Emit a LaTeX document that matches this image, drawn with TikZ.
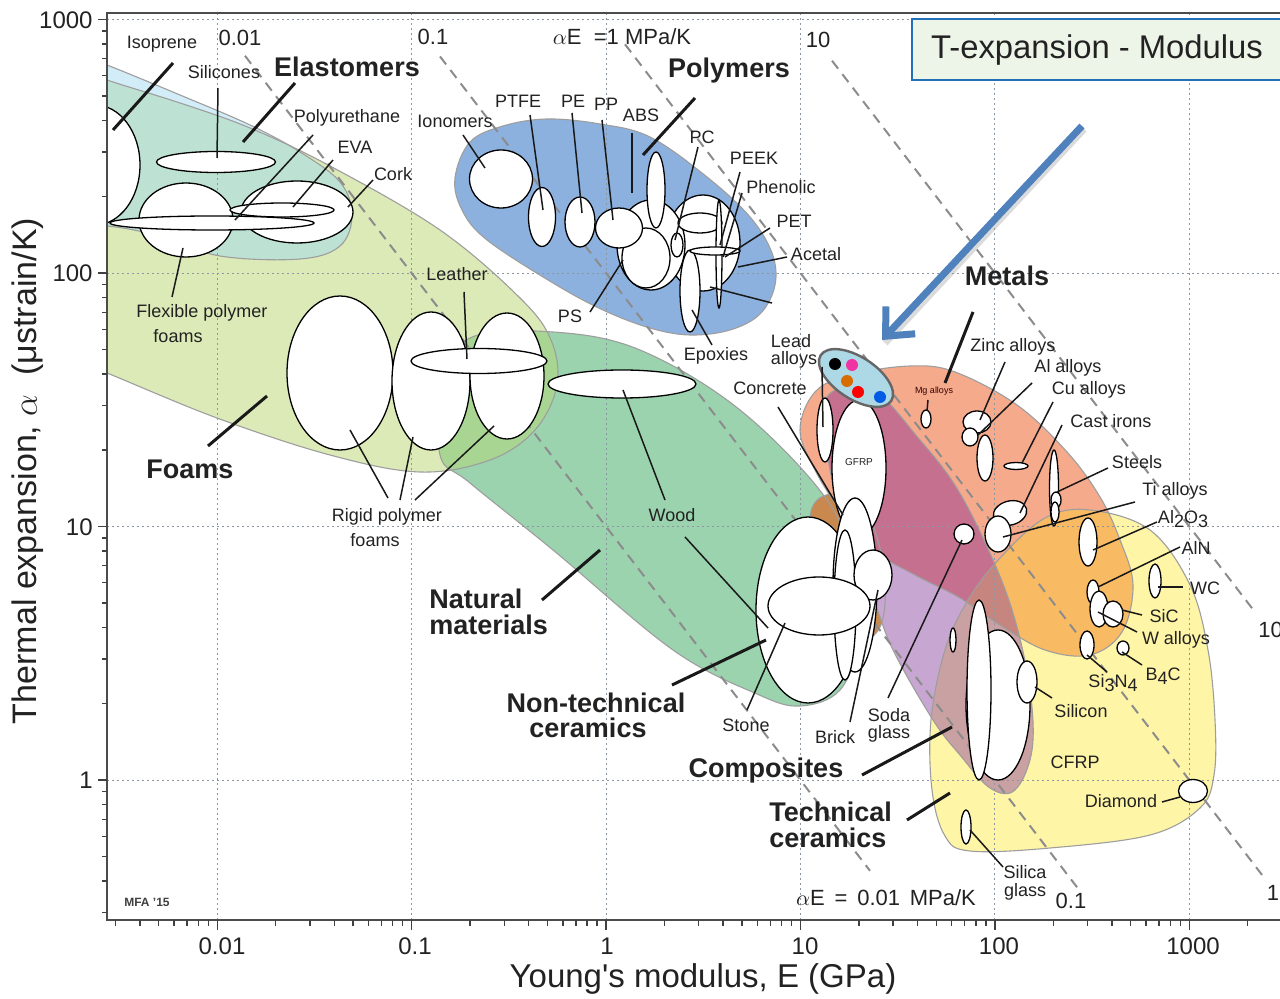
\documentclass[tikz,border=0pt]{standalone}
\usepackage{fontspec}
\setmainfont{Liberation Sans}
\usetikzlibrary{arrows.meta}
\definecolor{foamc}{HTML}{DCEAB8}
\definecolor{elastc}{HTML}{D2EDF8}
\definecolor{tealc}{HTML}{BDE2D3}
\definecolor{polyc}{HTML}{8DB1DE}
\definecolor{natc}{HTML}{9BD3AE}
\definecolor{natfoamc}{HTML}{A9D592}
\definecolor{ntcc}{HTML}{C8884E}
\definecolor{metalc}{HTML}{F6AA8C}
\definecolor{ceramc}{HTML}{FFF5A6}
\definecolor{metceramc}{HTML}{F9BA64}
\definecolor{compc}{HTML}{C8A6D2}
\definecolor{compmetc}{HTML}{C6708F}
\definecolor{compceramc}{HTML}{C9A1A2}
\definecolor{compallc}{HTML}{C7857F}
\definecolor{leadc}{HTML}{ADD8E6}
\definecolor{gridc}{HTML}{8C96A0}
\definecolor{titlefill}{HTML}{EDF5E8}
\definecolor{titleedge}{HTML}{2270B8}
\definecolor{arrowc}{HTML}{4F81BD}
\definecolor{txtc}{HTML}{222222}
\newcommand\sbx[1]{\raisebox{-0.45ex}{#1}}
\def\pFoam{plot[smooth cycle, tension=0.6] coordinates {(60,62) (107,80) (180,103) (250,128) (330,166) (440,230) (520,298) (551,340) (557,385) (535,430) (490,460) (420,472) (330,455) (217,418) (107,373) (60,355)}}
\def\pElast{plot[smooth cycle, tension=0.6] coordinates {(60,48) (107,65) (180,95) (250,125) (300,152) (340,182) (352,215) (340,246) (300,259) (220,256) (160,236) (107,226) (60,226)}}
\def\pPoly{plot[smooth cycle, tension=0.6] coordinates {(455,178) (470,142) (503,126) (547,119) (600,124) (650,137) (707,177) (750,217) (772,253) (775,285) (760,314) (730,330) (690,335) (650,328) (603,310) (553,283) (487,240) (462,210)}}
\def\pNat{plot[smooth cycle, tension=0.6] coordinates {(440,455) (445,385) (470,338) (553,332) (640,350) (740,410) (827,500) (852,570) (858,640) (840,690) (800,706) (757,694) (673,650) (553,550) (470,483)}}
\def\pNtc{plot[smooth cycle, tension=0.6] coordinates {(812,508) (838,494) (868,515) (884,570) (882,622) (862,640) (832,620) (812,565)}}
\def\pMet{plot[smooth cycle, tension=0.6] coordinates {(800,430) (815,392) (850,375) (910,366) (955,372) (1017,405) (1067,452) (1100,497) (1120,540) (1133,585) (1122,632) (1090,655) (1045,650) (1000,625) (960,598) (915,575) (873,550) (840,510) (815,470)}}
\def\pCer{plot[smooth cycle, tension=0.6] coordinates {(1045,518) (1090,510) (1150,530) (1190,585) (1208,650) (1215,720) (1214,775) (1200,808) (1150,835) (1050,848) (970,851) (945,836) (932,790) (931,720) (945,650) (968,600) (1000,558)}}
\def\pComp{plot[smooth cycle, tension=0.6] coordinates {(825,400) (870,388) (920,440) (958,490) (993,560) (1015,620) (1030,690) (1032,750) (1015,790) (990,788) (960,755) (933,720) (893,650) (873,597) (850,540) (830,470)}}
\begin{document}
\begin{tikzpicture}[x=0.5pt,y=-0.5pt,
  ell/.style={draw=black, fill=white, line width=0.65pt},
  env/.style={draw=black!38, line width=0.55pt},
  ld/.style={draw=black!90, line width=0.75pt},
  tld/.style={draw=black!90, line width=1.5pt},
  lb/.style={inner sep=0pt, font=\fontsize{9}{10.5}\selectfont, text=txtc},
  blb/.style={inner sep=0pt, font=\bfseries\fontsize{13.5}{15}\selectfont, text=txtc},
  gridl/.style={draw=gridc, line width=0.45pt, dash pattern=on 1.2pt off 1.3pt},
  aeline/.style={draw=black!45, line width=1pt, dash pattern=on 5pt off 3.5pt},
  tick/.style={draw=black!75, line width=0.7pt},
  ae/.style={inner sep=0pt, font=\fontsize{11}{12}\selectfont, text=txtc}]
\useasboundingbox (0,0) rectangle (1280,999);
\fill[white] (0,0) rectangle (1280,999);

\begin{scope}
\clip (107,13) rectangle (1285,920);
% ---------- envelopes ----------
\fill[foamc] \pFoam;
\fill[elastc] \pElast;
\begin{scope}\clip \pElast; \fill[tealc] \pFoam; \end{scope}
\fill[polyc] \pPoly;
\fill[natc] \pNat;
\begin{scope}\clip \pNat; \fill[natfoamc] \pFoam; \end{scope}
\fill[ntcc] \pNtc;
\fill[metalc] \pMet;
\fill[ceramc] \pCer;
\begin{scope}\clip \pMet; \fill[metceramc] \pCer; \end{scope}
\fill[compc] \pComp;
\begin{scope}\clip \pComp; \fill[compmetc] \pMet; \fill[compceramc] \pCer; \clip \pMet; \fill[compallc] \pCer; \end{scope}
\draw[env] \pFoam; \draw[env] \pElast; \draw[env] \pPoly; \draw[env] \pNat;
\draw[env] \pNtc; \draw[env] \pMet; \draw[env] \pCer; \draw[env] \pComp;
% ---------- grid ----------
\foreach \gx in {217.2,411.6,606,800.4,994.8,1189.2} \draw[gridl] (\gx,13) -- (\gx,920);
\foreach \gy in {19.5,273,526.5,780} \draw[gridl] (107,\gy) -- (1285,\gy);
% ---------- alpha E lines ----------
\draw[aeline] (245,55.8) -- (870,870.8);
\draw[aeline] (440,56.5) -- (1077,887.2);
\draw[aeline] (625,44.3) -- (1262,874.9);
\draw[aeline] (832,60.7) -- (1256,613.4);
% ---------- elastomers / foams ellipses ----------
\draw[ell] (95,165) ellipse [x radius=45, y radius=60];
\draw[ell] (216,162) ellipse [x radius=59.5, y radius=10.5];
\draw[ell] (297,212) ellipse [x radius=56, y radius=31];
\draw[ell] (186,220) ellipse [x radius=47, y radius=37];
\draw[ell] (282,210) ellipse [x radius=52, y radius=7];
\draw[ell] (212,223) ellipse [x radius=102, y radius=7];
\draw[ell] (340,373) ellipse [x radius=53, y radius=77];
\draw[ell] (431,381) ellipse [x radius=39, y radius=69];
\draw[ell] (507,376) ellipse [x radius=37, y radius=63];
\draw[ell] (479,361) ellipse [x radius=68, y radius=12.5];
\draw[ell] (622,384) ellipse [x radius=74, y radius=14];
% ---------- polymers ellipses ----------
\draw[ell] (501,179) ellipse [x radius=31.5, y radius=29];
\draw[ell] (542,217) ellipse [x radius=13.5, y radius=29.5];
\draw[ell] (580,222) ellipse [x radius=15, y radius=25];
\draw[ell] (703,243) ellipse [x radius=37, y radius=48];
\draw[ell] (651,245) ellipse [x radius=34, y radius=45];
\draw[ell] (646,258) ellipse [x radius=24, y radius=30];
\draw[ell] (619,228) ellipse [x radius=23.5, y radius=20];
\draw[ell] (656,190) ellipse [x radius=9, y radius=38];
\draw[ell] (700,223) ellipse [x radius=22, y radius=10];
\draw[ell] (677,245) ellipse [x radius=6, y radius=12];
\draw[ell] (690,291) ellipse [x radius=10, y radius=41];
\draw[ell] (719,254) ellipse [x radius=3, y radius=54];
\draw[ell] (715,251) ellipse [x radius=25, y radius=4];
% ---------- composites / non-technical cluster ----------
\draw[ell] (859,468) ellipse [x radius=27, y radius=68];
\draw[ell] (825,430) ellipse [x radius=8, y radius=32];
\draw[ell] (808,610) ellipse [x radius=52, y radius=93];
\draw[ell] (855,585) ellipse [x radius=22, y radius=87];
\draw[ell] (845,605) ellipse [x radius=11, y radius=75];
\draw[ell] (873,575) ellipse [x radius=19, y radius=25];
\draw[ell] (819,606) ellipse [x radius=51, y radius=29];
% ---------- metals ----------
\draw[ell] (926,419) ellipse [x radius=5, y radius=9];
\draw[ell] (977,422) ellipse [x radius=14, y radius=11];
\draw[ell] (970,437) ellipse [x radius=8, y radius=9];
\draw[ell] (985,458) ellipse [x radius=8, y radius=23];
\draw[ell] (1016,466) ellipse [x radius=12, y radius=3.5];
\draw[ell] (1054,488) ellipse [x radius=4.5, y radius=38];
\draw[ell] (1056,500) ellipse [x radius=5, y radius=8];
\draw[ell] (1055,512) ellipse [x radius=4, y radius=10];
\draw[ell, rotate around={15:(1010,513)}] (1010,513) ellipse [x radius=17, y radius=12];
\draw[ell] (998,534) ellipse [x radius=13, y radius=18];
\draw[ell] (964,534) ellipse [x radius=10, y radius=10];
% ---------- ceramics ----------
\draw[ell] (1088,542) ellipse [x radius=9, y radius=24];
\draw[ell] (1093,592) ellipse [x radius=6, y radius=12];
\draw[ell] (1099,609) ellipse [x radius=9, y radius=18];
\draw[ell] (1113,614) ellipse [x radius=10, y radius=13];
\draw[ell] (1155,581) ellipse [x radius=6, y radius=17];
\draw[ell] (1087,645) ellipse [x radius=7, y radius=14];
\draw[ell] (1123,648) ellipse [x radius=6, y radius=7];
\draw[ell] (953,640) ellipse [x radius=3, y radius=12];
\draw[ell] (998,705) ellipse [x radius=32, y radius=75];
\draw[ell] (979,690) ellipse [x radius=12, y radius=90];
\draw[ell] (1027,682) ellipse [x radius=10, y radius=21];
\draw[ell] (966,827) ellipse [x radius=5, y radius=17];
\draw[ell] (1193,791) ellipse [x radius=14.5, y radius=11.5];
% ---------- highlighted lead ellipse ----------
\draw[fill=leadc, draw=black!60, line width=1.2pt, rotate around={-33:(856,378)}] (856,378) ellipse [x radius=42, y radius=21];
\fill[black] (835,364) circle [radius=6];
\fill[magenta!80!white] (852,365) circle [radius=6];
\fill[orange!85!black] (847,381) circle [radius=6];
\fill[red] (858,392) circle [radius=6];
\fill[blue!60!cyan!90!black] (880,397) circle [radius=6];
% ---------- leader lines ----------
\draw[tld] (173,63) -- (113,130);
\draw[ld] (218,88) -- (217,158);
\draw[tld] (295,83) -- (243,142);
\draw[ld] (313,135) -- (235,220);
\draw[ld] (333,160) -- (293,207);
\draw[ld] (373,180) -- (348,207);
\draw[ld] (183,248) -- (172,297);
\draw[ld] (464,292) -- (467,359);
\draw[ld] (350,430) -- (388,498);
\draw[ld] (413,437) -- (400,500);
\draw[ld] (494,426) -- (415,500);
\draw[tld] (208,446) -- (267,396);
\draw[ld] (623,390) -- (665,500);
\draw[ld] (685,537) -- (768,628);
\draw[tld] (542,600) -- (600,550);
\draw[ld] (463,135) -- (485,168);
\draw[ld] (530,115) -- (543,210);
\draw[ld] (572,113) -- (582,213);
\draw[ld] (602,120) -- (613,220);
\draw[ld] (632,133) -- (632,193);
\draw[tld] (695,98) -- (643,155);
\draw[ld] (698,147) -- (675,240);
\draw[ld] (740,172) -- (720,245);
\draw[ld] (742,193) -- (723,257);
\draw[ld] (770,228) -- (725,257);
\draw[ld] (787,257) -- (738,267);
\draw[ld] (772,303) -- (710,287);
\draw[ld] (590,312) -- (623,260);
\draw[ld] (692,310) -- (712,345);
\draw[ld] (822,367) -- (823,427);
\draw[ld] (778,407) -- (843,515);
\draw[tld] (973,312) -- (945,383);
\draw[ld] (928,400) -- (927,411);
\draw[ld] (1005,362) -- (980,420);
\draw[ld] (1032,383) -- (978,435);
\draw[ld] (1053,402) -- (1022,463);
\draw[ld] (1062,425) -- (1020,513);
\draw[ld] (1108,468) -- (1057,492);
\draw[ld] (1135,502) -- (1003,537);
\draw[ld] (1157,522) -- (1093,550);
\draw[ld] (1180,547) -- (1098,587);
\draw[ld] (1158,587) -- (1183,587);
\draw[ld] (1122,610) -- (1142,615);
\draw[ld] (1098,612) -- (1137,632);
\draw[ld] (1087,655) -- (1107,672);
\draw[ld] (1122,652) -- (1142,665);
\draw[ld] (1035,687) -- (1052,698);
\draw[ld] (1162,802) -- (1180,797);
\draw[ld] (970,830) -- (1003,867);
\draw[ld] (888,698) -- (962,540);
\draw[ld] (850,722) -- (878,590);
\draw[ld] (747,710) -- (785,623);
\draw[tld] (672,685) -- (766,640);
\draw[tld] (862,775) -- (952,727);
\draw[tld] (907,820) -- (950,793);
\end{scope}

% ---------- frame & axes ----------
\draw[draw=black!70, line width=0.7pt] (1285,13) -- (107,13) -- (107,920) -- (1285,920);
\foreach \yy in {19.5,273,526.5,780} \draw[tick] (98,\yy) -- (107,\yy);
\foreach \d in {0,1,2}{\foreach \m in {2,...,9}{\pgfmathsetmacro\yy{780-253.5*(\d+log10(\m))}\draw[tick] (102,\yy) -- (107,\yy);}}
\foreach \m in {3,...,9}{\pgfmathsetmacro\yy{780-253.5*(-1+log10(\m))}\draw[tick] (102,\yy) -- (107,\yy);}
\foreach \xx in {217.2,411.6,606,800.4,994.8,1189.2} \draw[tick] (\xx,920) -- (\xx,930);
\foreach \d in {-2,-1,0,1,2}{\foreach \m in {2,...,9}{\pgfmathsetmacro\xx{606+194.4*(\d+log10(\m))}\draw[tick] (\xx,920) -- (\xx,926);}}
\foreach \m in {3,...,9}{\pgfmathsetmacro\xx{606+194.4*(-3+log10(\m))}\draw[tick] (\xx,920) -- (\xx,926);}
\pgfmathsetmacro\xx{606+194.4*(3+log10(2))}\draw[tick] (\xx,920) -- (\xx,926);

\begin{scope}[every node/.style={inner sep=0pt, font=\fontsize{12}{13}\selectfont, text=txtc}]
\node[anchor=east] (y1000) at (93,20) {1000};
\node[anchor=east] (y100) at (93,273) {100};
\node[anchor=east] (y10) at (93,527) {10};
\node[anchor=east] (y1) at (93,780) {1};
\node (x001) at (222,946) {0.01};
\node (x01) at (415,946) {0.1};
\node (x1) at (607,946) {1};
\node (x10) at (805,946) {10};
\node (x100) at (999,946) {100};
\node (x1000) at (1193,946) {1000};
\end{scope}
\node[inner sep=0pt, font=\fontsize{16.5}{18}\selectfont, text=txtc] (xlab) at (703,979) {Young\textquotesingle s modulus, E (GPa)};
\node[inner sep=0pt, rotate=90, font=\fontsize{17}{19}\selectfont, text=txtc] (ylab) at (28,471) {Thermal expansion, $\alpha$\ \ (μstrain/K)};

% ---------- title box ----------
\draw[draw=titleedge, line width=1.3pt, fill=titlefill] (912,19) rectangle (1300,80);
\node[inner sep=0pt, font=\fontsize{16.4}{18}\selectfont, text=txtc] (title) at (1097,50) {T-expansion - Modulus};

% ---------- blue arrow ----------
\draw[black!40, opacity=0.35, line width=3.5pt] (1084,129) -- (885,343);
\draw[arrowc, line width=3.5pt, -{Straight Barb[length=11pt, width=20pt]}] (1082,126) -- (882,340);

% ---------- alpha E labels ----------
\node[ae] (ae001) at (240,38) {0.01};
\node[ae] (ae01) at (433,37) {0.1};
\node[ae] (ae1) at (622,37) {$\alpha$E \ =1 MPa/K};
\node[ae] (ae10) at (818,40) {10};
\node[ae] (ae001b) at (886,898) {$\alpha$E \,=\, 0.01 \,MPa/K};
\node[ae] (ae01b) at (1071,901) {0.1};
\node[ae] (ae1b) at (1273,893) {1};
\node[ae, anchor=west] (ae10b) at (1258,630) {10};

% ---------- labels ----------
\node[lb] (isop) at (162,44) {Isoprene};
\node[lb] (sil) at (224,72) {Silicones};
\node[blb] (elast) at (347,67) {Elastomers};
\node[lb] (pu) at (347,118) {Polyurethane};
\node[lb] (eva) at (355,147) {EVA};
\node[lb] (cork) at (393,174) {Cork};
\node[lb] (flex1) at (202,313) {Flexible polymer};
\node[lb] (flex2) at (178,336) {foams};
\node[lb] (leather) at (457,274) {Leather};
\node[lb] (iono) at (455,121) {Ionomers};
\node[lb] (ptfe) at (518,101) {PTFE};
\node[lb] (pe) at (573,101) {PE};
\node[lb] (pp) at (606,104) {PP};
\node[lb] (abs) at (641,115) {ABS};
\node[blb] (poly) at (729,71) {Polymers};
\node[lb] (pc) at (702,137) {PC};
\node[lb] (peek) at (754,158) {PEEK};
\node[lb] (phen) at (781,187) {Phenolic};
\node[lb] (pet) at (794,221) {PET};
\node[lb] (acet) at (816,254) {Acetal};
\node[lb] (ps) at (570,316) {PS};
\node[lb] (epox) at (716,356) {Epoxies};
\node[lb] (lead1) at (791,341) {Lead};
\node[lb] (lead2) at (794,360) {alloys};
\node[lb] (concr) at (770,388) {Concrete};
\node[blb] (metals) at (1007,276) {Metals};
\node[inner sep=0pt, font=\fontsize{4.5}{5}\selectfont, text=black!80!red] (mg) at (934,391) {Mg alloys};
\node[inner sep=0pt, font=\fontsize{5}{6}\selectfont, text=txtc] (gfrp) at (859,462) {GFRP};
\node[lb] (zinc) at (1013,347) {Zinc alloys};
\node[lb] (al) at (1068,368) {Al alloys};
\node[lb] (cu) at (1089,390) {Cu alloys};
\node[lb] (cast) at (1111,421) {Cast irons};
\node[lb] (steel) at (1137,462) {Steels};
\node[lb] (ti) at (1175,491) {Ti alloys};
\node[lb] (alo) at (1183,519) {Al\sbx{2}O\sbx{3}};
\node[lb] (aln) at (1196,548) {AlN};
\node[lb] (wc) at (1205,588) {WC};
\node[lb] (sic) at (1164,616) {SiC};
\node[lb] (walloy) at (1176,640) {W alloys};
\node[lb] (sin) at (1113,683) {Si\sbx{3}N\sbx{4}};
\node[lb] (bc) at (1163,676) {B\sbx{4}C};
\node[lb] (silicon) at (1081,711) {Silicon};
\node[lb] (cfrp) at (1075,762) {CFRP};
\node[lb] (diam) at (1121,801) {Diamond};
\node[lb] (silica1) at (1025,872) {Silica};
\node[lb] (silica2) at (1025,892) {glass};
\node[lb] (soda1) at (889,715) {Soda};
\node[lb] (soda2) at (889,734) {glass};
\node[lb] (brick) at (835,737) {Brick};
\node[lb] (stone) at (746,725) {Stone};
\node[lb] (wood) at (672,515) {Wood};
\node[blb] (foams) at (190,469) {Foams};
\node[lb] (rigid1) at (387,517) {Rigid polymer};
\node[lb] (rigid2) at (375,540) {foams};
\node[blb, anchor=west] (nat1) at (429,599) {Natural};
\node[blb, anchor=west] (nat2) at (429,625) {materials};
\node[blb] (ntc1) at (596,703) {Non-technical};
\node[blb] (ntc2) at (588,728) {ceramics};
\node[blb] (comp) at (766,771) {Composites};
\node[blb, anchor=west] (tc1) at (769,812) {Technical};
\node[blb, anchor=west] (tc2) at (769,838) {ceramics};
\node[inner sep=0pt, font=\bfseries\fontsize{6}{7}\selectfont, text=black!75] (mfa) at (147,902) {MFA '15};
\end{tikzpicture}
\end{document}
